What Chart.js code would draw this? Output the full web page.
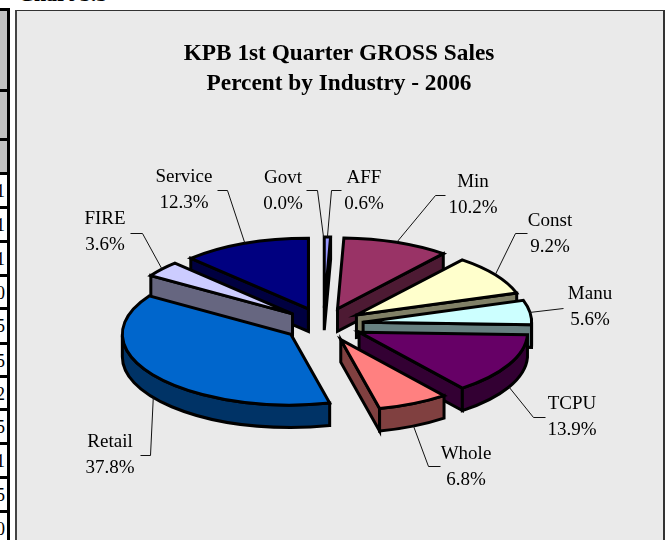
<!DOCTYPE html>
<html>
<head>
<meta charset="utf-8">
<style>
html,body{margin:0;padding:0;background:#fff;width:671px;height:540px;overflow:hidden}
#sheet{position:absolute;left:0;top:0;width:671px;height:540px;overflow:hidden;font-family:"Liberation Serif",serif}
#caption{position:absolute;left:18px;top:-18px;font:bold 22px/24px "Liberation Serif",serif;color:#000;white-space:nowrap}
#table{position:absolute;left:-1px;top:8px;width:8px;height:540px;border-right:3px solid #000;border-top:3px solid #000}
.row{position:absolute;left:0;width:8px;overflow:hidden;border-bottom:3px solid #000;box-sizing:content-box;text-align:right;font:18px/32px "Liberation Serif",serif;color:#000}
.row.head{background:#C0C0C0}
#panel{position:absolute;left:15px;top:10px;width:646px;height:540px;background:#EAEAEA;border-top:1px solid #333;border-left:2px solid #444;border-right:2px solid #333}
canvas{position:absolute;left:0;top:0}
</style>
</head>
<body>
<div id="sheet">
  <div id="caption">Chart 3.3</div>
  <div id="table"></div>
  <div id="panel"></div>
  <canvas id="chart" width="671" height="540"></canvas>
</div>
<script src="https://cdn.jsdelivr.net/npm/chart.js@4"></script>
<script>
// ---- chart values ----
const categories = ["AFF","Min","Const","Manu","TCPU","Whole","Retail","FIRE","Service","Govt"];
const percents   = [0.6,10.2,9.2,5.6,13.9,6.8,37.8,3.6,12.3,0.0];
const faceColors = ["#9999FF","#993366","#FFFFCC","#CCFFFF","#660066","#FF8080","#0066CC","#CCCCFF","#000080","#9999FF"];
const sideColors = ["#4D4D80","#4D1A33","#808066","#668080","#330033","#804040","#003366","#666680","#000040","#4D4D80"];
const titleLines = ["KPB 1st Quarter GROSS Sales","Percent by Industry - 2006"];

// ---- page furniture beside the chart ----
const rowEdges  = [0,81,130,164,198,232,266,299,334,367,400,434,468,502];
const rowDigits = ["","","","1","1","1","0","5","5","2","5","1","5","0"];

// ---- layout of the 3-D view and the callouts ----
const view = {cx:323.5, cy:324.5, radius:168.5, tilt:0.42, explode:40, depth:22.5, line:3};
const labelCenters = [[364,178],[473,182],[550,221],[590,294],[572,404],[466,454],[110,442],[105,219],[184,177],[283,178]];
const leaderPaths = [
  [[341,190],[331,190]],
  [[445,195],[435,195]],
  [[527,233],[515,233]],
  [[563,308]],
  [[545,417],[533,417]],
  [[440,466],[428,466]],
  [[140,455],[150,455]],
  [[130,233],[142,233]],
  [[217,190],[227,190]],
  [[306,190],[317,190]]
];
const labelFont = '19px "Liberation Serif", serif';
const lineGap = 26;

const tableEl = document.getElementById('table');
rowDigits.forEach((d,i)=>{
  const top = rowEdges[i], next = i+1<rowEdges.length ? rowEdges[i+1] : 540;
  const r = document.createElement('div');
  r.className = 'row' + (i<3 ? ' head' : '');
  r.style.top = top+'px';
  r.style.height = (next-top-3)+'px';
  if(d){ r.textContent = d; r.style.width='8px'; r.style.textAlign='left'; r.style.textIndent='-3px'; }
  tableEl.appendChild(r);
});

let arcRadius = view.radius;
function explodedOrigin(arc){
  const mid = (arc.startAngle+arc.endAngle)/2;
  return {
    ox: view.cx + Math.cos(mid)*view.explode,
    oy: view.cy + Math.sin(mid)*view.explode*view.tilt
  };
}
function rimPoint(o, a){
  return [o.ox + Math.cos(a)*arcRadius, o.oy + Math.sin(a)*arcRadius*view.tilt];
}

const pie3d = {
  id:'pie3d',
  beforeDatasetDraw(chart, args){
    const ctx = chart.ctx;
    const arcs = chart.getDatasetMeta(args.index).data;
    arcRadius = arcs[0].outerRadius;
    const order = arcs.map((a,i)=>i).filter(i=>percents[i]>0)
      .sort((p,q)=>Math.sin((arcs[p].startAngle+arcs[p].endAngle)/2)-Math.sin((arcs[q].startAngle+arcs[q].endAngle)/2));

    ctx.save();
    ctx.lineJoin='miter'; ctx.miterLimit=10;
    ctx.lineWidth=view.line; ctx.strokeStyle='#000';
    order.forEach(i=>{
      const arc = arcs[i], o = explodedOrigin(arc);
      const a0 = arc.startAngle, a1 = arc.endAngle, d = view.depth;
      ctx.fillStyle = sideColors[i];
      const radial = a=>{
        const p = rimPoint(o,a);
        ctx.beginPath();
        ctx.moveTo(o.ox,o.oy); ctx.lineTo(p[0],p[1]);
        ctx.lineTo(p[0],p[1]+d); ctx.lineTo(o.ox,o.oy+d);
        ctx.closePath(); ctx.fill(); ctx.stroke();
      };
      if(-Math.cos(a0)>0) radial(a0);
      if(Math.cos(a1)>0) radial(a1);
      const lo = Math.max(a0,0), hi = Math.min(a1,Math.PI);
      if(hi>lo){
        ctx.beginPath();
        ctx.ellipse(o.ox,o.oy,arcRadius,arcRadius*view.tilt,0,lo,hi);
        ctx.ellipse(o.ox,o.oy+d,arcRadius,arcRadius*view.tilt,0,hi,lo,true);
        ctx.closePath(); ctx.fill(); ctx.stroke();
      }
      // the top face is the library's own arc, seen through the tilt
      ctx.save();
      ctx.translate(o.ox,o.oy);
      ctx.scale(1,view.tilt);
      ctx.translate(-arc.x,-arc.y);
      arc.draw(ctx);
      ctx.restore();
      ctx.beginPath();
      ctx.moveTo(o.ox,o.oy);
      ctx.ellipse(o.ox,o.oy,arcRadius,arcRadius*view.tilt,0,a0,a1);
      ctx.closePath(); ctx.stroke();
    });

    // callouts
    ctx.lineWidth=1; ctx.strokeStyle='#111'; ctx.lineJoin='round';
    arcs.forEach((arc,i)=>{
      const o = explodedOrigin(arc);
      const mid = (arc.startAngle+arc.endAngle)/2;
      const e = rimPoint(o,mid);
      const endY = e[1] + (Math.sin(mid)>0 ? view.depth : 0);
      ctx.beginPath();
      leaderPaths[i].forEach((p,k)=> k ? ctx.lineTo(p[0]+.5,p[1]+.5) : ctx.moveTo(p[0]+.5,p[1]+.5));
      ctx.lineTo(e[0],endY);
      ctx.stroke();
    });
    ctx.fillStyle='#000'; ctx.font=labelFont; ctx.textAlign='center'; ctx.textBaseline='middle';
    categories.forEach((name,i)=>{
      const c = labelCenters[i];
      ctx.fillText(name,c[0],c[1]);
      ctx.fillText(percents[i].toFixed(1)+'%',c[0],c[1]+lineGap);
    });
    ctx.restore();
    return false;
  }
};

new Chart(document.getElementById('chart'),{
  type:'pie',
  data:{labels:categories,datasets:[{data:percents,backgroundColor:faceColors,borderWidth:0,offset:0}]},
  plugins:[pie3d],
  options:{
    responsive:false,
    animation:false,
    rotation:0,
    radius:view.radius,
    layout:{padding:{left:7,right:0,top:0,bottom:0}},
    plugins:{
      legend:{display:false},
      tooltip:{enabled:false},
      title:{display:true,text:titleLines,color:'#000',
        font:{family:'"Liberation Serif", serif',size:23.3,weight:'bold',lineHeight:1.29},
        padding:{top:39,bottom:20}}
    }
  }
});
</script>
</body>
</html>
